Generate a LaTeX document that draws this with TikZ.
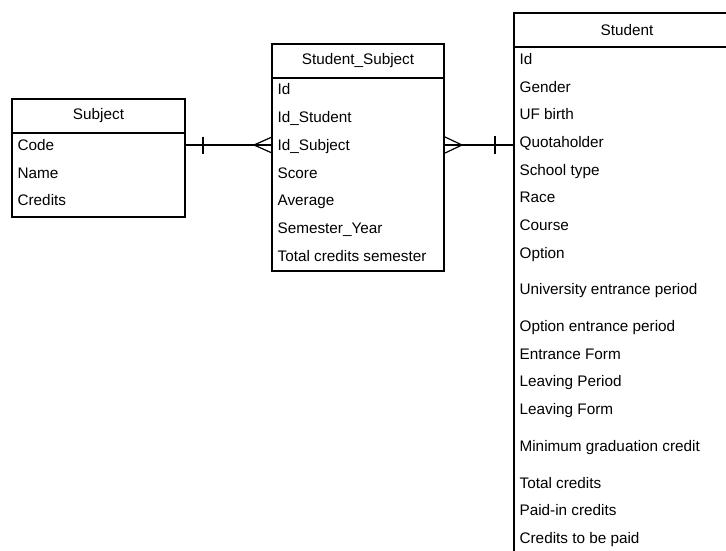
\documentclass[tikz,border=0pt]{standalone}
\usepackage{fontspec}
\setmainfont{Liberation Sans}
\usetikzlibrary{positioning}

\begin{document}
\begin{tikzpicture}[x=1pt,y=-1pt,line width=1.2pt,
    font=\fontsize{15.3}{18}\selectfont,
    head/.style={draw,anchor=north west,minimum height=34pt,inner sep=0pt,outer sep=0pt},
    body/.style={draw,anchor=north,inner sep=0pt,outer sep=0pt},
    attr/.style={anchor=west,inner sep=0pt,text height=12pt,text depth=2pt}]
  \clip (0,0) rectangle (726,550);
  % Subject
  \node[head,minimum width=173pt] (subjH) at (12,99) {Subject};
  \node[body,minimum width=173pt,minimum height=84pt] (subjB) at (subjH.south) {};
  \foreach \t/\yy [count=\i] in {Code/145,Name/173,Credits/200}
    \node[attr] (subj-\i) at (17,\yy) {\t};
  % Student_Subject
  \node[head,minimum width=172pt] (ssH) at (272,44) {Student\_Subject};
  \node[body,minimum width=172pt,minimum height=193pt] (ssB) at (ssH.south) {};
  \foreach \t/\yy [count=\i] in {Id/89.5,Id\_Student/117,Id\_Subject/145,Score/173,
      Average/200,Semester\_Year/228,Total credits semester/256}
    \node[attr] (ss-\i) at (277,\yy) {\t};
  % Student (runs off the page)
  \node[head,minimum width=240pt] (stH) at (514,13) {\hspace*{-14pt}Student};
  \node[body,minimum width=240pt,minimum height=560pt] (stB) at (stH.south) {};
  \foreach \t/\yy [count=\i] in {Id/59,Gender/87,UF birth/114,Quotaholder/142,
      School type/170,Race/197,Course/225,Option/253,University entrance period/289,
      Option entrance period/326,Entrance Form/354,Leaving Period/381,Leaving Form/409,
      Minimum graduation credit/446,Total credits/483,Paid-in credits/510,
      Credits to be paid/538}
    \node[attr] (st-\i) at (519,\yy) {\t};
  % relations
  \draw (subjB.east |- subj-1) -- (ssB.west |- ss-3);
  \draw (subjB.east |- subj-1) ++(18,-8.5) -- ++(0,17);
  \draw (ssB.west |- ss-3) ++(0,-8) -- ++(-18,8) -- ++(18,8);
  \draw (ssB.east |- ss-3) -- (stB.west |- ss-3);
  \draw (ssB.east |- ss-3) ++(0,-8.5) -- ++(18,8.5) -- ++(-18,8.5);
  \draw (stB.west |- ss-3) ++(-19,-9) -- ++(0,18);
\end{tikzpicture}
\end{document}
